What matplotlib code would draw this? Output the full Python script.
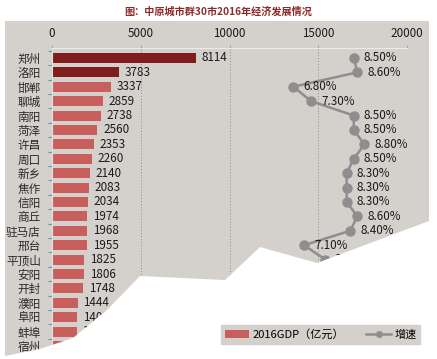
import matplotlib
matplotlib.use("Agg")
import matplotlib.pyplot as plt
from matplotlib.patches import Rectangle, Polygon
from matplotlib.lines import Line2D
from matplotlib.patches import Patch

plt.rcParams['font.family'] = ['Noto Sans CJK SC', 'DejaVu Sans']

cities = ['郑州', '洛阳', '邯郸', '聊城', '南阳', '菏泽', '许昌', '周口', '新乡', '焦作', '信阳',
          '商丘', '驻马店', '邢台', '平顶山', '安阳', '开封', '濮阳', '阜阳', '蚌埠', '宿州']
gdp = [8114, 3783, 3337, 2859, 2738, 2560, 2353, 2260, 2140, 2083, 2034,
       1974, 1968, 1955, 1825, 1806, 1748, 1444, 1401, 1385, 1351]
# growth rates (%), only the visible part of the line
growth = [8.5, 8.6, 6.8, 7.3, 8.5, 8.5, 8.8, 8.5, 8.3, 8.3, 8.3, 8.6, 8.4, 7.1, 7.7]
gdp_ticks = [0, 5000, 10000, 15000, 20000]

W, H = 437, 359
bg = '#d4d1cc'
dark_red = '#801d1e'
light_red = '#c85f5c'
line_gray = '#8e8e8e'

fig = plt.figure(figsize=(W / 100, H / 100), dpi=100)
fig.patch.set_facecolor('white')

# gray panel behind the chart
fig.add_artist(Rectangle((5 / W, 0), (429 - 5) / W, 1 - 21 / H, transform=fig.transFigure,
                         facecolor=bg, edgecolor='none', zorder=-5))

fig.text(0.5, 1 - 12 / H, '图：中原城市群30市2016年经济发展情况', ha='center', va='center',
         fontsize=7.3, fontweight='bold', color='#8b2a2a')

ax = fig.add_axes([52 / W, 0, 355 / W, (H - 48) / H])
ax.set_facecolor('none')
ax2 = ax.twiny()

y = list(range(len(cities)))
colors = [dark_red if i < 2 else light_red for i in y]
ax.barh(y, gdp, height=0.7, color=colors, zorder=2)
for yi, v in zip(y, gdp):
    ax.text(v + 330, yi, str(v), va='center', ha='left', fontsize=8.4, color='#1a1a1a', zorder=3)

ax.set_xlim(0, 20000)
ax.set_ylim(20.9, -0.69)
ax.xaxis.tick_top()
ax.xaxis.set_label_position('top')
ax.set_xticks(gdp_ticks)
ax.set_xticklabels([str(t) for t in gdp_ticks])
ax.tick_params(axis='x', length=2, pad=4, labelsize=8.4, colors='#9aa', labelcolor='#1a1a1a')
ax.set_yticks(y)
ax.set_yticklabels(cities)
ax.tick_params(axis='y', which='major', length=0, pad=8, labelsize=8.4, labelcolor='#2a2a2a')
ax.set_yticks([i + 0.5 for i in range(-1, len(cities))], minor=True)
ax.tick_params(axis='y', which='minor', length=3, color='#5f9d9a', width=0.8)
ax.grid(axis='x', linestyle=(0, (1, 2)), color='#8a8a8a', linewidth=0.7, zorder=1)
ax.spines['top'].set_color('#ecebe8')
ax.spines['left'].set_color('#e4e2df')
ax.spines['right'].set_visible(False)
ax.spines['bottom'].set_visible(False)

ax2.set_xlim(0, 10)
ax2.set_facecolor('none')
ax2.plot(growth, y[:len(growth)], color=line_gray, linewidth=1.8, marker='o', markersize=6.5,
         markerfacecolor=line_gray, markeredgecolor=line_gray, zorder=4)
for g, yi in zip(growth, y):
    ax2.text(g + 0.28, yi, '%.2f%%' % g, va='center', ha='left', fontsize=8.4,
             color='#1a1a1a', zorder=5)
ax2.set_xticks([])
for s in ax2.spines.values():
    s.set_visible(False)

# torn-paper white area at the bottom
tear = [(0, 359), (0, 357), (5, 356), (40, 349), (73, 338), (107, 310), (140, 276),
        (225, 280), (260, 247), (317, 263), (437, 218), (437, 359)]
fig.add_artist(Polygon([(px / W, 1 - py / H) for px, py in tear], closed=True,
                       transform=fig.transFigure, facecolor='white', edgecolor='none', zorder=5))

handles = [Patch(facecolor=light_red, edgecolor='none'),
           Line2D([], [], color=line_gray, linewidth=1.8, marker='o', markersize=4)]
leg = fig.legend(handles, ['2016GDP（亿元）', '增速'], loc='center',
                 bbox_to_anchor=(320.5 / W, 1 - 334.5 / H), ncol=2, fontsize=8,
                 frameon=True, fancybox=False, facecolor=bg, edgecolor=bg, framealpha=1,
                 handlelength=2.2, handleheight=0.8, columnspacing=2.0, borderpad=0.35,
                 handletextpad=0.3)
leg.set_zorder(10)

fig.savefig('out.png', dpi=100, facecolor='white')
